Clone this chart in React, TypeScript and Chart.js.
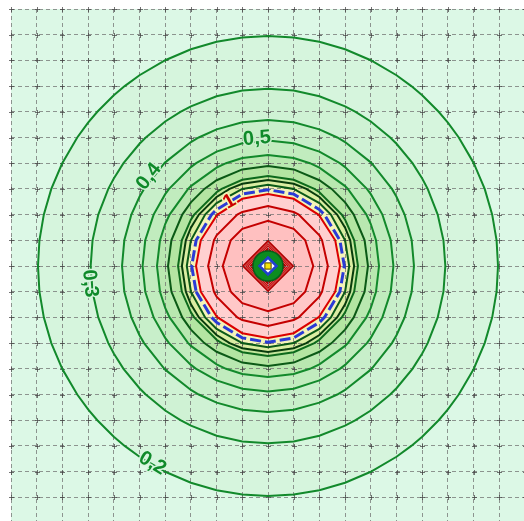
import React, { useEffect, useRef } from 'react';
import { Chart, registerables } from 'chart.js';

Chart.register(...registerables);

// Closed iso-lines around the source, radius in grid cells.
const greenLevels = [0.2, 0.3, 0.4, 0.5, 0.6, 0.7, 0.8, 0.85, 0.9];
const greenRadii = [8.95, 6.9, 5.68, 4.88, 4.32, 3.89, 3.5, 3.35, 3.16];
const redLevels = [1, 1.5, 2];
const redRadii = [2.8, 2.33, 1.76];
const coreLevels = [3, 4, 5, 6];
const coreRadii = [0.98, 0.91, 0.83, 0.74];
const limitRadius = 2.97;
const sourcePoint = [{ x: 0, y: 0 }];

// Iso-line labels: text, anchor (grid units), rotation (deg)
const labelText = ['0,2', '0,3', '0,4', '0,5', '1'];
const labelX = [-4.5, -6.93, -4.63, -0.43, -1.5];
const labelY = [-7.68, -0.68, 3.48, 4.96, 2.5];
const labelAngle = [31, 84, -52, -5, -30];

// Styles
const areaColor = '#dcf8e6';
const greenFills = ['#d6f5dd', '#cff2d4', '#c8efca', '#c1ecbe', '#b9e8b0', '#b4e5a2', '#c4e79c', '#dbeda2', '#f4f3b8'];
const greenLines = ['#12892b', '#12892b', '#12892b', '#12892b', '#12892b', '#0b5a16', '#0d6a1c', '#083c0c', '#0b5a18'];
const redFills = ['#ffd0d0', '#ffc8c8', '#ffc0c0'];
const coreFills = ['#c41010', '#b80a0a', '#c01010', '#ac0202'];
const labelColors = ['#0f8a2a', '#0f8a2a', '#0f8a2a', '#0f8a2a', '#cc0000'];
const labelHalo = ['#d6f5dd', '#d6f5dd', '#cff2d4', '#c8efca', '#f4f3b8'];

// Vertices of a closed iso-line: where a circle of radius r crosses the grid lines.
function ringPoints(r: number) {
  const raw: { x: number; y: number }[] = [];
  const m = Math.floor(r - 1e-9);
  for (let k = -m; k <= m; k++) {
    const h = Math.sqrt(r * r - k * k);
    raw.push({ x: k, y: h }, { x: k, y: -h }, { x: h, y: k }, { x: -h, y: k });
  }
  raw.sort((a, b) => Math.atan2(a.y, a.x) - Math.atan2(b.y, b.x));
  const pts: { x: number; y: number }[] = [];
  for (const p of raw) {
    const last = pts[pts.length - 1];
    if (!last || Math.hypot(last.x - p.x, last.y - p.y) > 1e-6) pts.push(p);
  }
  pts.push({ ...pts[0] });
  return pts;
}

function ring(r: number, line: string, fillColor: string | null, width: number, dash: number[] = []) {
  return {
    data: ringPoints(r),
    showLine: true,
    borderColor: line,
    borderWidth: width,
    borderDash: dash,
    backgroundColor: fillColor || 'rgba(0,0,0,0)',
    isoFill: fillColor,
    pointRadius: 0,
    pointHoverRadius: 0,
    pointHitRadius: 0,
    fill: false,
    tension: 0,
  };
}

// Area background and iso-band fills, laid under the grid.
const bandFill = {
  id: 'bandFill',
  beforeDraw(chart: any) {
    const { ctx, chartArea: a } = chart;
    ctx.save();
    ctx.fillStyle = areaColor;
    ctx.fillRect(a.left, a.top, a.right - a.left, a.bottom - a.top);
    ctx.beginPath();
    ctx.rect(a.left, a.top, a.right - a.left, a.bottom - a.top);
    ctx.clip();
    const sets = chart.data.datasets;
    for (let i = sets.length - 1; i >= 0; i--) {
      const ds = sets[i];
      if (!ds.isoFill) continue;
      const els = chart.getDatasetMeta(i).data;
      ctx.beginPath();
      els.forEach((el: any, j: number) => (j ? ctx.lineTo(el.x, el.y) : ctx.moveTo(el.x, el.y)));
      ctx.closePath();
      ctx.fillStyle = ds.isoFill;
      ctx.fill();
    }
    ctx.restore();
  },
};

// Small crosses at grid intersections.
const gridMarks = {
  id: 'gridMarks',
  beforeDatasetsDraw(chart: any) {
    const { ctx, scales } = chart;
    const xs = scales.x.ticks.map((t: any) => Math.round(scales.x.getPixelForValue(t.value)) + 0.5);
    const ys = scales.y.ticks.map((t: any) => Math.round(scales.y.getPixelForValue(t.value)) + 0.5);
    ctx.save();
    ctx.strokeStyle = 'rgba(70,70,70,0.75)';
    ctx.lineWidth = 1;
    ctx.beginPath();
    for (const px of xs) {
      for (const py of ys) {
        ctx.moveTo(px - 2.5, py);
        ctx.lineTo(px + 2.5, py);
        ctx.moveTo(px, py - 2.5);
        ctx.lineTo(px, py + 2.5);
      }
    }
    ctx.stroke();
    ctx.restore();
  },
};

const isoLabels = {
  id: 'isoLabels',
  afterDatasetsDraw(chart: any) {
    const { ctx, scales } = chart;
    ctx.save();
    ctx.font = 'bold 20px "Liberation Sans", Arial, sans-serif';
    ctx.textAlign = 'center';
    ctx.textBaseline = 'middle';
    labelText.forEach((t, i) => {
      const px = scales.x.getPixelForValue(labelX[i]);
      const py = scales.y.getPixelForValue(labelY[i]);
      ctx.save();
      ctx.translate(px, py);
      ctx.rotate((labelAngle[i] * Math.PI) / 180);
      ctx.lineJoin = 'round';
      ctx.lineWidth = 3;
      ctx.strokeStyle = labelHalo[i];
      ctx.strokeText(t, 0, 0);
      ctx.fillStyle = labelColors[i];
      ctx.fillText(t, 0, 0);
      ctx.restore();
    });
    ctx.restore();
  },
};

function axis(horizontal: boolean) {
  return {
    type: 'linear' as const,
    min: -10,
    max: 10,
    ticks: { display: false, stepSize: 1 },
    grid: { display: true, color: 'rgba(110,110,110,0.72)', lineWidth: 1, drawTicks: false, tickLength: 0 },
    border: { display: false, dash: [4, 3] },
    afterFit(scale: any) {
      if (horizontal) scale.height = 0;
      else scale.width = 0;
      scale.paddingLeft = scale.paddingRight = scale.paddingTop = scale.paddingBottom = 0;
    },
  };
}

export default function App() {
  const ref = useRef<HTMLCanvasElement>(null);

  useEffect(() => {
    const canvas = ref.current;
    if (!canvas) return;

    const datasets: any[] = [
      // source marker
      { data: sourcePoint, pointStyle: 'rect', pointRadius: 4.4, backgroundColor: '#f4e40a', borderColor: '#4a4400', borderWidth: 1 },
      { data: sourcePoint, pointStyle: 'rectRot', pointRadius: 8.5, backgroundColor: '#ffffff', borderColor: '#1f3fd0', borderWidth: 2.5 },
      { data: sourcePoint, pointStyle: 'circle', pointRadius: 15, backgroundColor: '#0c8c20', borderColor: '#06601a', borderWidth: 1.5 },
    ];
    for (let i = coreRadii.length - 1; i >= 0; i--) {
      datasets.push(ring(coreRadii[i], i === 0 ? '#b00000' : 'rgba(255,150,150,0.7)', coreFills[i], i === 0 ? 1.5 : 0.8));
    }
    for (let i = redRadii.length - 1; i >= 0; i--) {
      datasets.push(ring(redRadii[i], i === 0 ? '#dc0000' : '#c40000', redFills[i], 2));
    }
    datasets.push(ring(limitRadius, '#2b3bd6', null, 3, [11, 4]));
    for (let i = greenRadii.length - 1; i >= 0; i--) {
      datasets.push(ring(greenRadii[i], greenLines[i], greenFills[i], 2));
    }

    const chart = new Chart(canvas, {
      type: 'scatter',
      data: { datasets },
      options: {
        animation: false,
        responsive: false,
        events: [],
        layout: { autoPadding: false, padding: { left: 11, top: 9, right: 5, bottom: 7 } },
        plugins: { legend: { display: false }, tooltip: { enabled: false } },
        scales: { x: axis(true), y: axis(false) },
      },
      plugins: [bandFill, gridMarks, isoLabels],
    });
    return () => chart.destroy();
  }, []);

  return (
    <div style={{ position: 'fixed', left: 0, top: 0, width: 524, height: 521, overflow: 'hidden', background: '#ffffff' }}>
      <canvas ref={ref} width={530} height={530} style={{ display: 'block', width: 530, height: 530 }} />
    </div>
  );
}
